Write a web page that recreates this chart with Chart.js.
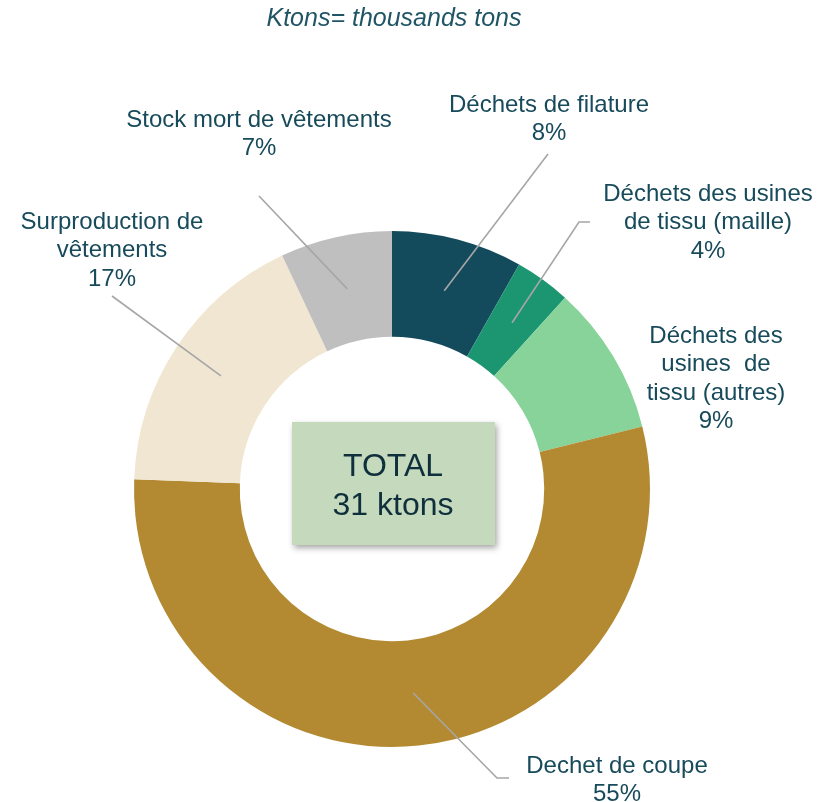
<!DOCTYPE html>
<html>
<head>
<meta charset="utf-8">
<script src="https://cdn.jsdelivr.net/npm/chart.js@4.4.0/dist/chart.umd.min.js"></script>
<style>
  html, body { margin: 0; padding: 0; background: #ffffff; }
  #wrap { position: relative; width: 831px; height: 802px; }
</style>
</head>
<body>
<div id="wrap"><canvas id="chart" width="831" height="802"></canvas></div>
<script>
// Waste breakdown (share of 31 ktons), clockwise from 12 o'clock
const categories = [
    ['Déchets de filature'],
    ['Déchets des usines', 'de tissu (maille)'],
    ['Déchets des', 'usines  de', 'tissu (autres)'],
    ['Dechet de coupe'],
    ['Surproduction de', 'vêtements'],
    ['Stock mort de vêtements']
];
const shares = [8.2, 3.5, 9.4, 54.5, 17.4, 7.0];
const shareLabels = ['8%', '4%', '9%', '55%', '17%', '7%'];
const colors = ['#134b5d', '#1c9670', '#88d399', '#b38a31', '#f1e6d1', '#bfbfbf'];
const totalText = ['TOTAL', '31 ktons'];
const titleText = 'Ktons= thousands tons';

const textColor = '#174a5a';
const leaderColor = '#a6a6a6';

// label placement, offsets from the ring centre (line middle of first line)
const labelLayout = [
    { dx: 157, dy: -384, leader: [[156, -335]] },
    { dx: 316, dy: -295, leader: [[187, -267], [198, -267]] },
    { dx: 324, dy: -153, leader: null },
    { dx: 225, dy: 277, leader: [[105, 289], [117, 289]] },
    { dx: -280, dy: -267, leader: [[-280, -193]] },
    { dx: -133, dy: -369, leader: [[-133, -293]] }
];

const calloutPlugin = {
    id: 'callouts',
    afterDatasetsDraw(chart) {
        const ctx = chart.ctx;
        const meta = chart.getDatasetMeta(0);
        const cx = meta.data[0].x;
        const cy = meta.data[0].y;

        // leader lines from each slice centroid
        ctx.save();
        ctx.strokeStyle = leaderColor;
        ctx.lineWidth = 1.6;
        meta.data.forEach((arc, i) => {
            const lay = labelLayout[i];
            if (!lay.leader) return;
            const p = arc.getCenterPoint();
            ctx.beginPath();
            ctx.moveTo(p.x, p.y);
            lay.leader.forEach(pt => ctx.lineTo(cx + pt[0], cy + pt[1]));
            ctx.stroke();
        });
        ctx.restore();

        // labels
        ctx.save();
        ctx.fillStyle = textColor;
        ctx.font = '24px "Liberation Sans", Arial, sans-serif';
        ctx.textAlign = 'center';
        ctx.textBaseline = 'middle';
        const lh = 28.5;
        categories.forEach((lines, i) => {
            const lay = labelLayout[i];
            const all = lines.concat([shareLabels[i]]);
            all.forEach((t, k) => ctx.fillText(t, cx + lay.dx, cy + lay.dy + k * lh));
        });
        ctx.restore();

        // centre total box
        ctx.save();
        ctx.shadowColor = 'rgba(0,0,0,0.35)';
        ctx.shadowBlur = 6;
        ctx.shadowOffsetX = 2;
        ctx.shadowOffsetY = 3;
        ctx.fillStyle = '#c5d9bd';
        ctx.fillRect(cx - 100, cy - 67, 203, 123);
        ctx.restore();
        ctx.save();
        ctx.fillStyle = '#0e2f3b';
        ctx.font = '32px "Liberation Sans", Arial, sans-serif';
        ctx.textAlign = 'center';
        ctx.textBaseline = 'middle';
        ctx.fillText(totalText[0], cx + 1, cy - 22);
        ctx.fillText(totalText[1], cx + 1, cy + 17);
        ctx.restore();

        // title
        ctx.save();
        ctx.fillStyle = '#1f5565';
        ctx.font = 'italic 25px "Liberation Sans", Arial, sans-serif';
        ctx.textAlign = 'center';
        ctx.textBaseline = 'middle';
        ctx.fillText(titleText, 394, 19);
        ctx.restore();
    }
};

new Chart(document.getElementById('chart'), {
    type: 'doughnut',
    data: {
        labels: categories.map(l => l.join(' ')),
        datasets: [{
            data: shares,
            backgroundColor: colors,
            borderWidth: 0
        }]
    },
    options: {
        responsive: false,
        animation: false,
        cutout: '59%',
        layout: { padding: { left: 134, right: 181, top: 231, bottom: 55 } },
        plugins: {
            legend: { display: false },
            tooltip: { enabled: false }
        }
    },
    plugins: [calloutPlugin]
});
</script>
</body>
</html>
